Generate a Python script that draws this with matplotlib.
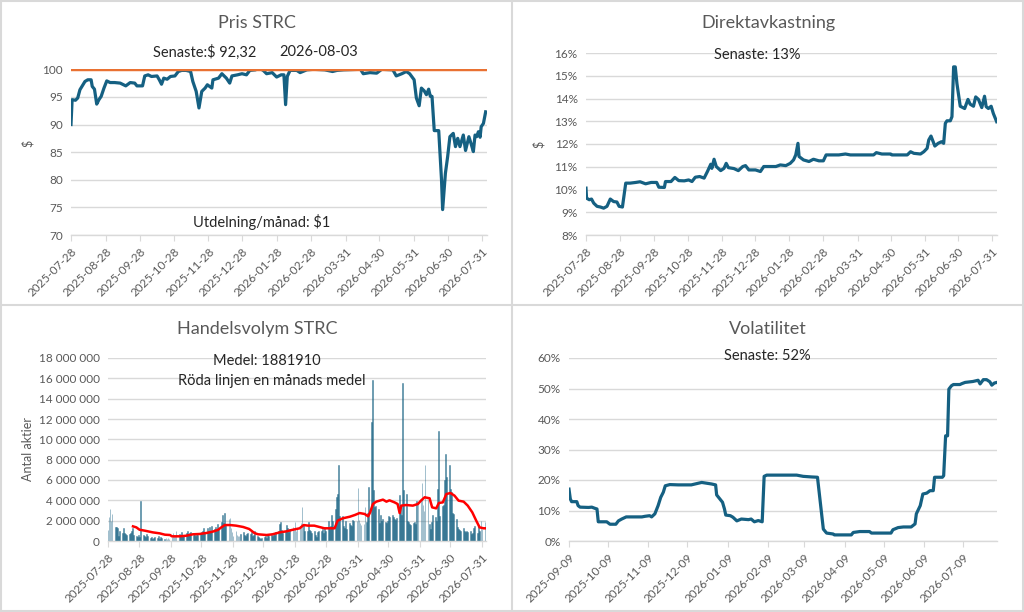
import matplotlib
matplotlib.use("Agg")
import matplotlib.pyplot as plt
from matplotlib.ticker import FuncFormatter, MultipleLocator
from matplotlib.lines import Line2D
import numpy as np
import pandas as pd

plt.rcParams['font.family'] = ['Lato', 'DejaVu Sans']

# ---------------- data ----------------
start = pd.Timestamp("2025-07-28")

# Pris STRC: day offset from 2025-07-28, price in $
price_day = [0, 1, 4, 6, 8, 12.5, 15, 18, 19, 21, 23, 25, 27, 29.5, 32, 35, 39, 44, 49, 53,
             57, 59, 64, 66, 69, 72, 77, 79, 81, 83, 86, 89, 93, 96, 99, 103, 107, 109, 112, 114.5,
             117, 120, 122, 126, 127, 132, 135, 139, 142, 144, 149, 153, 157, 160, 165, 168.5, 172, 175, 180, 184,
             188, 190.5, 192, 193.5, 196, 202, 205, 211, 217, 227, 234, 238, 244, 259, 261.5, 267.5, 273.5, 278, 288, 291,
             296, 300, 303, 307, 309, 311.5, 313.5, 316, 318, 320, 321.5, 323, 325, 329, 331.5, 332.5, 335, 337, 339, 342,
             344, 346, 348, 351, 353, 356, 358, 360, 361.5, 363, 364.5, 366, 367, 369, 371]
price_val = [90.0, 94.5, 94.4, 94.8, 96.3, 97.8, 98.1, 98.1, 96.9, 96.4, 93.7, 94.5, 95.1, 96.6, 97.9, 97.6, 97.6, 97.5, 97.0, 97.6,
             97.5, 97.0, 97.0, 98.8, 99.0, 98.7, 98.8, 98.1, 97.3, 98.4, 98.2, 98.7, 98.8, 99.6, 99.8, 99.8, 99.6, 97.8, 96.0, 93.0,
             96.0, 96.6, 97.2, 96.6, 98.1, 98.4, 99.2, 98.4, 97.5, 98.8, 99.0, 99.2, 99.0, 99.8, 99.9, 100.2, 99.8, 99.2, 99.4, 98.6,
             99.0, 99.0, 93.6, 98.7, 99.8, 99.8, 99.4, 99.9, 100.0, 99.9, 99.6, 99.8, 99.9, 100.0, 99.2, 99.4, 99.3, 100.0, 99.9, 98.8,
             99.2, 99.6, 99.2, 98.1, 94.8, 93.4, 96.6, 96.1, 95.4, 96.4, 95.1, 95.1, 88.9, 88.9, 80.0, 74.6, 81.2, 84.2, 87.8, 88.4,
             86.0, 87.5, 86.0, 88.1, 85.3, 87.8, 86.5, 85.1, 88.1, 87.8, 88.7, 87.7, 89.6, 90.2, 92.3]
nominal = 100

# Direktavkastning (%)
yield_day = [0, 0.5, 3, 5, 7, 10, 13, 16, 19, 22, 25, 28, 30, 33, 36, 40, 45, 49, 54, 59,
             64, 66, 71, 72, 77, 80.5, 84, 89, 93, 96, 99, 103, 107, 110, 113, 114, 116, 118, 122, 125,
             127, 129, 134, 138, 142, 144.5, 147.5, 153.5, 158, 161, 172, 176, 181, 185, 188, 190, 192, 193, 197, 202,
             206, 211, 215, 217.5, 229, 235, 239.5, 247, 260.5, 263, 268, 276, 277, 291, 294, 297, 303, 306, 309, 310.5,
             312.5, 316, 319, 322, 324, 325.5, 327, 330, 331.5, 333, 334.5, 336, 339, 343, 346, 348, 351, 353, 355.5, 358.5,
             361, 362.5, 364.5, 367, 369, 372]
yield_val = [10.06, 9.62, 9.55, 9.58, 9.40, 9.26, 9.23, 9.18, 9.26, 9.58, 9.47, 9.45, 9.26, 9.23, 10.28, 10.28, 10.31, 10.34, 10.25, 10.31,
             10.31, 10.10, 10.09, 10.35, 10.35, 10.53, 10.39, 10.38, 10.42, 10.35, 10.54, 10.57, 10.50, 10.79, 11.11, 10.93, 11.33, 11.01, 10.83, 10.93,
             11.15, 10.96, 10.92, 10.83, 11.01, 11.05, 10.86, 10.86, 10.79, 11.01, 11.01, 11.08, 11.05, 11.15, 11.30, 11.52, 12.03, 11.45, 11.30, 11.23,
             11.33, 11.26, 11.26, 11.52, 11.52, 11.56, 11.52, 11.52, 11.52, 11.62, 11.56, 11.56, 11.52, 11.52, 11.66, 11.59, 11.56, 11.66, 11.81, 12.18,
             12.35, 11.91, 12.03, 12.10, 12.03, 12.91, 13.02, 13.02, 13.20, 15.39, 15.39, 14.66, 13.66, 13.56, 13.96, 13.75, 13.66, 14.07, 13.96, 13.60,
             14.10, 13.64, 13.56, 13.66, 13.34, 12.98]

# Handelsvolym: one value per trading day (millions of shares), weeks of five
volume_m = [1.1, 2.4, 3.1, 2.0, 2.7,  1.4, 1.35, 1.3, 0.5, 1.0,  0.8, 1.3, 0.8, 0.7, 0.6,  0.7, 0.8, 1.0, 1.3, 0.6,
            0.5, 0.4, 0.6, 0.4, 3.9,  0.6, 0.5, 0.4, 0.7, 0.5,  0.3, 0.4, 0.2, 0.3, 0.4,  0.3, 0.5, 0.2, 0.4, 0.3,
            0.2, 0.3, 0.2, 0.3, 0.2,  0.4, 0.8, 0.6, 0.5, 1.0,  0.7, 0.5, 0.9, 0.6, 0.6,  0.8, 1.0, 0.7, 0.8, 0.9,
            0.6, 0.7, 0.5, 0.8, 0.6,  0.7, 0.9, 1.0, 1.3, 0.8,  1.3, 1.0, 1.4, 1.0, 1.5,  1.2, 1.4, 1.0, 1.7, 1.2,
            1.9, 2.6, 1.8, 2.8, 1.6,  2.2, 2.3, 1.3, 0.9, 0.5,  1.0, 0.6, 0.5, 0.5, 0.7,  0.9, 0.6, 0.5, 0.7, 0.8,
            0.7, 0.9, 0.5, 0.6, 1.0,  0.5, 0.4, 0.3, 0.2, 0.3,  0.4, 0.5, 0.3, 0.6, 0.5,  0.7, 0.5, 0.8, 0.6, 0.9,
            1.0, 1.7, 1.9, 1.1, 0.8,  1.0, 1.6, 1.3, 0.9, 1.2,  1.4, 1.1, 1.9, 1.0, 1.2,  1.3, 1.8, 3.3, 1.7, 1.0,
            1.0, 1.9, 1.1, 1.0, 0.8,  1.0, 0.6, 0.4, 0.9, 1.0,  1.0, 1.2, 0.8, 1.3, 1.0,  2.0, 1.2, 1.5, 2.6, 2.0,
            3.1, 4.3, 4.6, 7.5, 2.5,  2.5, 1.5, 1.3, 2.0, 1.2,  1.8, 1.6, 1.5, 2.1, 2.0,  2.0, 5.2, 2.1, 1.8, 1.6,
            1.7, 3.3, 1.9, 2.8, 5.3,  11.7, 15.8, 5.0, 3.3, 3.4,  3.1, 1.8, 2.6, 2.0, 2.2,  1.9, 1.8, 2.0, 2.5, 2.4,
            2.6, 2.4, 2.2, 2.1, 2.3,  4.5, 3.5, 2.6, 15.5, 5.0,  4.6, 2.0, 1.9, 1.7, 1.6,  1.8, 1.9, 1.7, 3.9, 3.8,
            4.0, 5.7, 3.5, 3.0, 7.5,  4.0, 1.7, 1.2, 1.9, 2.6,  2.4, 2.0, 5.1, 10.8, 2.5,  3.4, 3.5, 6.0, 8.6, 6.3,
            7.5, 5.1, 4.8, 2.8, 2.7,  2.2, 1.4, 1.2, 1.1, 1.0,  1.3, 1.0, 0.9, 1.0, 0.9,  1.0, 0.7, 0.8, 1.3, 1.5,
            0.8, 1.5, 1.0, 2.0, 1.2,  1.9]

# red line: one-month average (millions)
avg_day = [24.6, 27.9, 31, 36, 44, 51, 56, 61, 63, 70.5, 77, 83.6, 90, 97, 103, 108, 111.5, 115, 120, 126,
           133, 139, 144, 147.6, 156, 162, 169, 175.5, 182, 188.6, 192.5, 197, 203, 208, 213, 220, 223, 226, 231, 238,
           243, 247.6, 252.5, 256, 258, 260.7, 264, 270.6, 274, 277, 282, 285, 287, 288.6, 293.5, 300, 305, 308, 311.6, 316.5,
           319, 323, 325.6, 329.5, 333, 337, 341, 345, 350, 354, 358.5, 362.4, 365.7, 369.6, 371]
avg_m = [1.44, 1.34, 1.11, 1.02, 0.85, 0.75, 0.62, 0.59, 0.46, 0.46, 0.52, 0.66, 0.69, 0.79, 0.92, 1.08, 1.34, 1.57, 1.57, 1.51,
         1.38, 1.18, 0.79, 0.66, 0.59, 0.66, 0.85, 0.95, 1.11, 1.25, 1.57, 1.51, 1.51, 1.38, 1.25, 1.25, 1.25, 2.0, 2.23, 2.39,
         2.56, 2.75, 2.66, 2.43, 2.82, 3.64, 3.87, 4.07, 3.87, 4.00, 3.80, 3.64, 2.75, 3.48, 3.54, 3.48, 3.64, 3.97, 4.30, 4.20,
         3.31, 3.21, 3.74, 3.80, 4.62, 4.72, 4.46, 3.97, 3.87, 3.48, 2.82, 2.0, 1.34, 1.25, 1.25]

# Volatilitet (%), day offset from 2025-09-09
vol_start = pd.Timestamp("2025-09-09")
vola_day = [0, 1, 2, 6, 7, 8.5, 15, 17.5, 20, 21.5, 22.5, 26, 29, 31.5, 36, 38, 40.5, 44, 56, 58.5,
            62, 63.5, 66, 68.5, 70.5, 72.5, 74, 77.5, 84, 94, 102, 109.5, 112.7, 113.5, 115, 118, 119.5, 120.5, 124, 126,
            129, 132.5, 138, 140, 142.5, 145.5, 148.5, 150, 152, 161, 175, 180, 186.5, 191, 195.5, 198, 203, 204, 217, 218.5,
            223.5, 231, 232.5, 247.5, 249, 253, 257, 263, 266, 267, 270, 272, 275, 277.5, 280, 281, 287, 288, 289.5, 291,
            292, 294, 295.5, 300.5, 302, 304.5, 310.5, 314.5, 316, 318.5, 321, 323.5, 325, 327, 329]
vola_val = [17.0, 13.8, 12.9, 12.9, 11.6, 11.1, 11.0, 11.1, 10.7, 10.5, 6.3, 6.3, 6.3, 5.5, 5.5, 6.6, 7.2, 7.9, 7.9, 8.1,
            8.3, 7.9, 8.9, 11.6, 14.3, 16.0, 18.1, 18.5, 18.4, 18.4, 19.2, 18.7, 18.4, 15.1, 14.3, 12.7, 10.5, 8.5, 8.3, 7.8,
            6.6, 7.2, 7.0, 7.2, 6.3, 6.7, 6.3, 21.2, 21.6, 21.6, 21.6, 21.2, 21.0, 20.9, 3.9, 2.6, 2.3, 2.0, 2.0, 2.8,
            3.1, 3.1, 2.6, 2.6, 3.7, 4.4, 4.6, 4.6, 5.6, 8.9, 11.6, 15.4, 15.7, 16.5, 16.5, 20.9, 20.9, 21.4, 34.5, 34.5,
            49.8, 50.9, 51.3, 51.3, 51.6, 52.0, 52.3, 52.7, 51.5, 52.9, 52.9, 52.2, 51.1, 51.8, 52.0]

price_ticks = ["2025-07-28", "2025-08-28", "2025-09-28", "2025-10-28", "2025-11-28", "2025-12-28",
               "2026-01-28", "2026-02-28", "2026-03-31", "2026-04-30", "2026-05-31", "2026-06-30", "2026-07-31"]
vola_ticks = ["2025-09-09", "2025-10-09", "2025-11-09", "2025-12-09", "2026-01-09", "2026-02-09",
              "2026-03-09", "2026-04-09", "2026-05-09", "2026-06-09", "2026-07-09"]

# ---------------- styling ----------------
BLUE = '#156082'
ORANGE = '#E97132'
GRID = '#d9d9d9'
GRAY = '#595959'
W, H = 1024, 612


def to_dates(base, days):
    return base + pd.to_timedelta(np.asarray(days, dtype=float), unit='D')


def axes_px(fig, left, top, right, bottom):
    return fig.add_axes([left / W, 1 - bottom / H, (right - left) / W, (bottom - top) / H])


def txt(fig, x, y, s, size=10.5, color='#262626', **kw):
    fig.text(x / W, 1 - y / H, s, ha='center', va='center', fontsize=size, color=color, **kw)


def style(ax, ticks):
    ax.grid(axis='y', color=GRID, linewidth=1)
    ax.set_axisbelow(True)
    for s in ['top', 'right', 'left']:
        ax.spines[s].set_visible(False)
    ax.spines['bottom'].set_color(GRID)
    ax.spines['bottom'].set_linewidth(1)
    ax.tick_params(axis='y', length=0, colors=GRAY, labelsize=8.5, pad=6)
    ax.tick_params(axis='x', length=4, color=GRID, colors=GRAY, labelsize=8.5)
    ax.set_xticks(pd.to_datetime(ticks))
    ax.set_xticklabels(ticks, rotation=45, ha='right', rotation_mode='anchor')


fig = plt.figure(figsize=(W / 100, H / 100), dpi=100)

# panel borders
for (x0, y0, x1, y1) in [(1, 1, 1023, 1), (1, 611, 1023, 611), (1, 1, 1, 611), (1023, 1, 1023, 611),
                          (512, 0, 512, 612), (0, 305, 1024, 305)]:
    fig.add_artist(Line2D([x0 / W, x1 / W], [1 - y0 / H, 1 - y1 / H], color=GRID, linewidth=1.5))

# --- Pris STRC ---
ax1 = axes_px(fig, 71, 69.3, 487, 235)
ax1.plot(to_dates(start, price_day), price_val, color=BLUE, linewidth=2.3, solid_joinstyle='round')
ax1.axhline(nominal, color=ORANGE, linewidth=3.2, zorder=3)
ax1.set_ylim(70, 100)
ax1.yaxis.set_major_locator(MultipleLocator(5))
ax1.set_xlim(start, start + pd.Timedelta(days=372.2))
style(ax1, price_ticks)
txt(fig, 257, 23, "Pris STRC", size=13, color=GRAY)
txt(fig, 205, 52, "Senaste:$ 92,32")
txt(fig, 319, 52, "2026-08-03")
txt(fig, 262, 222, "Utdelning/månad: $1")
txt(fig, 28, 143, "$", size=9, color=GRAY, rotation=90)

# --- Direktavkastning ---
ax2 = axes_px(fig, 586, 53, 997, 235)
ax2.plot(to_dates(start, yield_day), yield_val, color=BLUE, linewidth=2.3, solid_joinstyle='round')
ax2.set_ylim(8, 16)
ax2.yaxis.set_major_locator(MultipleLocator(1))
ax2.yaxis.set_major_formatter(FuncFormatter(lambda v, p: f"{v:.0f}%"))
ax2.set_xlim(start, start + pd.Timedelta(days=372.3))
style(ax2, price_ticks)
txt(fig, 768, 23, "Direktavkastning", size=13, color=GRAY)
txt(fig, 757, 55, "Senaste: 13%")
txt(fig, 539, 144, "$", size=9, color=GRAY, rotation=90)

# --- Handelsvolym ---
ax3 = axes_px(fig, 108, 358, 486, 541)
trade_days = pd.bdate_range("2025-07-28", "2026-08-03")
ax3.bar(trade_days, np.array(volume_m) * 1e6, width=0.8, color=BLUE, edgecolor=BLUE,
        linewidth=0.4, alpha=0.7)
ax3.plot(to_dates(start, avg_day), np.array(avg_m) * 1e6, color='#ff0000', linewidth=1.8)
ax3.set_ylim(0, 18e6)
ax3.yaxis.set_major_locator(MultipleLocator(2e6))
ax3.yaxis.set_major_formatter(FuncFormatter(lambda v, p: f"{int(round(v)):,}".replace(",", " ")))
ax3.set_xlim(start, start + pd.Timedelta(days=372))
style(ax3, price_ticks)
txt(fig, 257, 329, "Handelsvolym STRC", size=13, color=GRAY)
txt(fig, 267, 361, "Medel: 1881910")
txt(fig, 272, 381, "Röda linjen en månads medel")
txt(fig, 28, 449, "Antal aktier", size=9, color=GRAY, rotation=90)

# --- Volatilitet ---
ax4 = axes_px(fig, 569, 358, 997, 541)
ax4.plot(to_dates(vol_start, vola_day), vola_val, color=BLUE, linewidth=2.3, solid_joinstyle='round')
ax4.set_ylim(0, 60)
ax4.yaxis.set_major_locator(MultipleLocator(10))
ax4.yaxis.set_major_formatter(FuncFormatter(lambda v, p: f"{v:.0f}%"))
ax4.set_xlim(vol_start, vol_start + pd.Timedelta(days=329))
style(ax4, vola_ticks)
txt(fig, 768, 329, "Volatilitet", size=13, color=GRAY)
txt(fig, 767, 356, "Senaste: 52%")

fig.savefig("out.png", dpi=100)
